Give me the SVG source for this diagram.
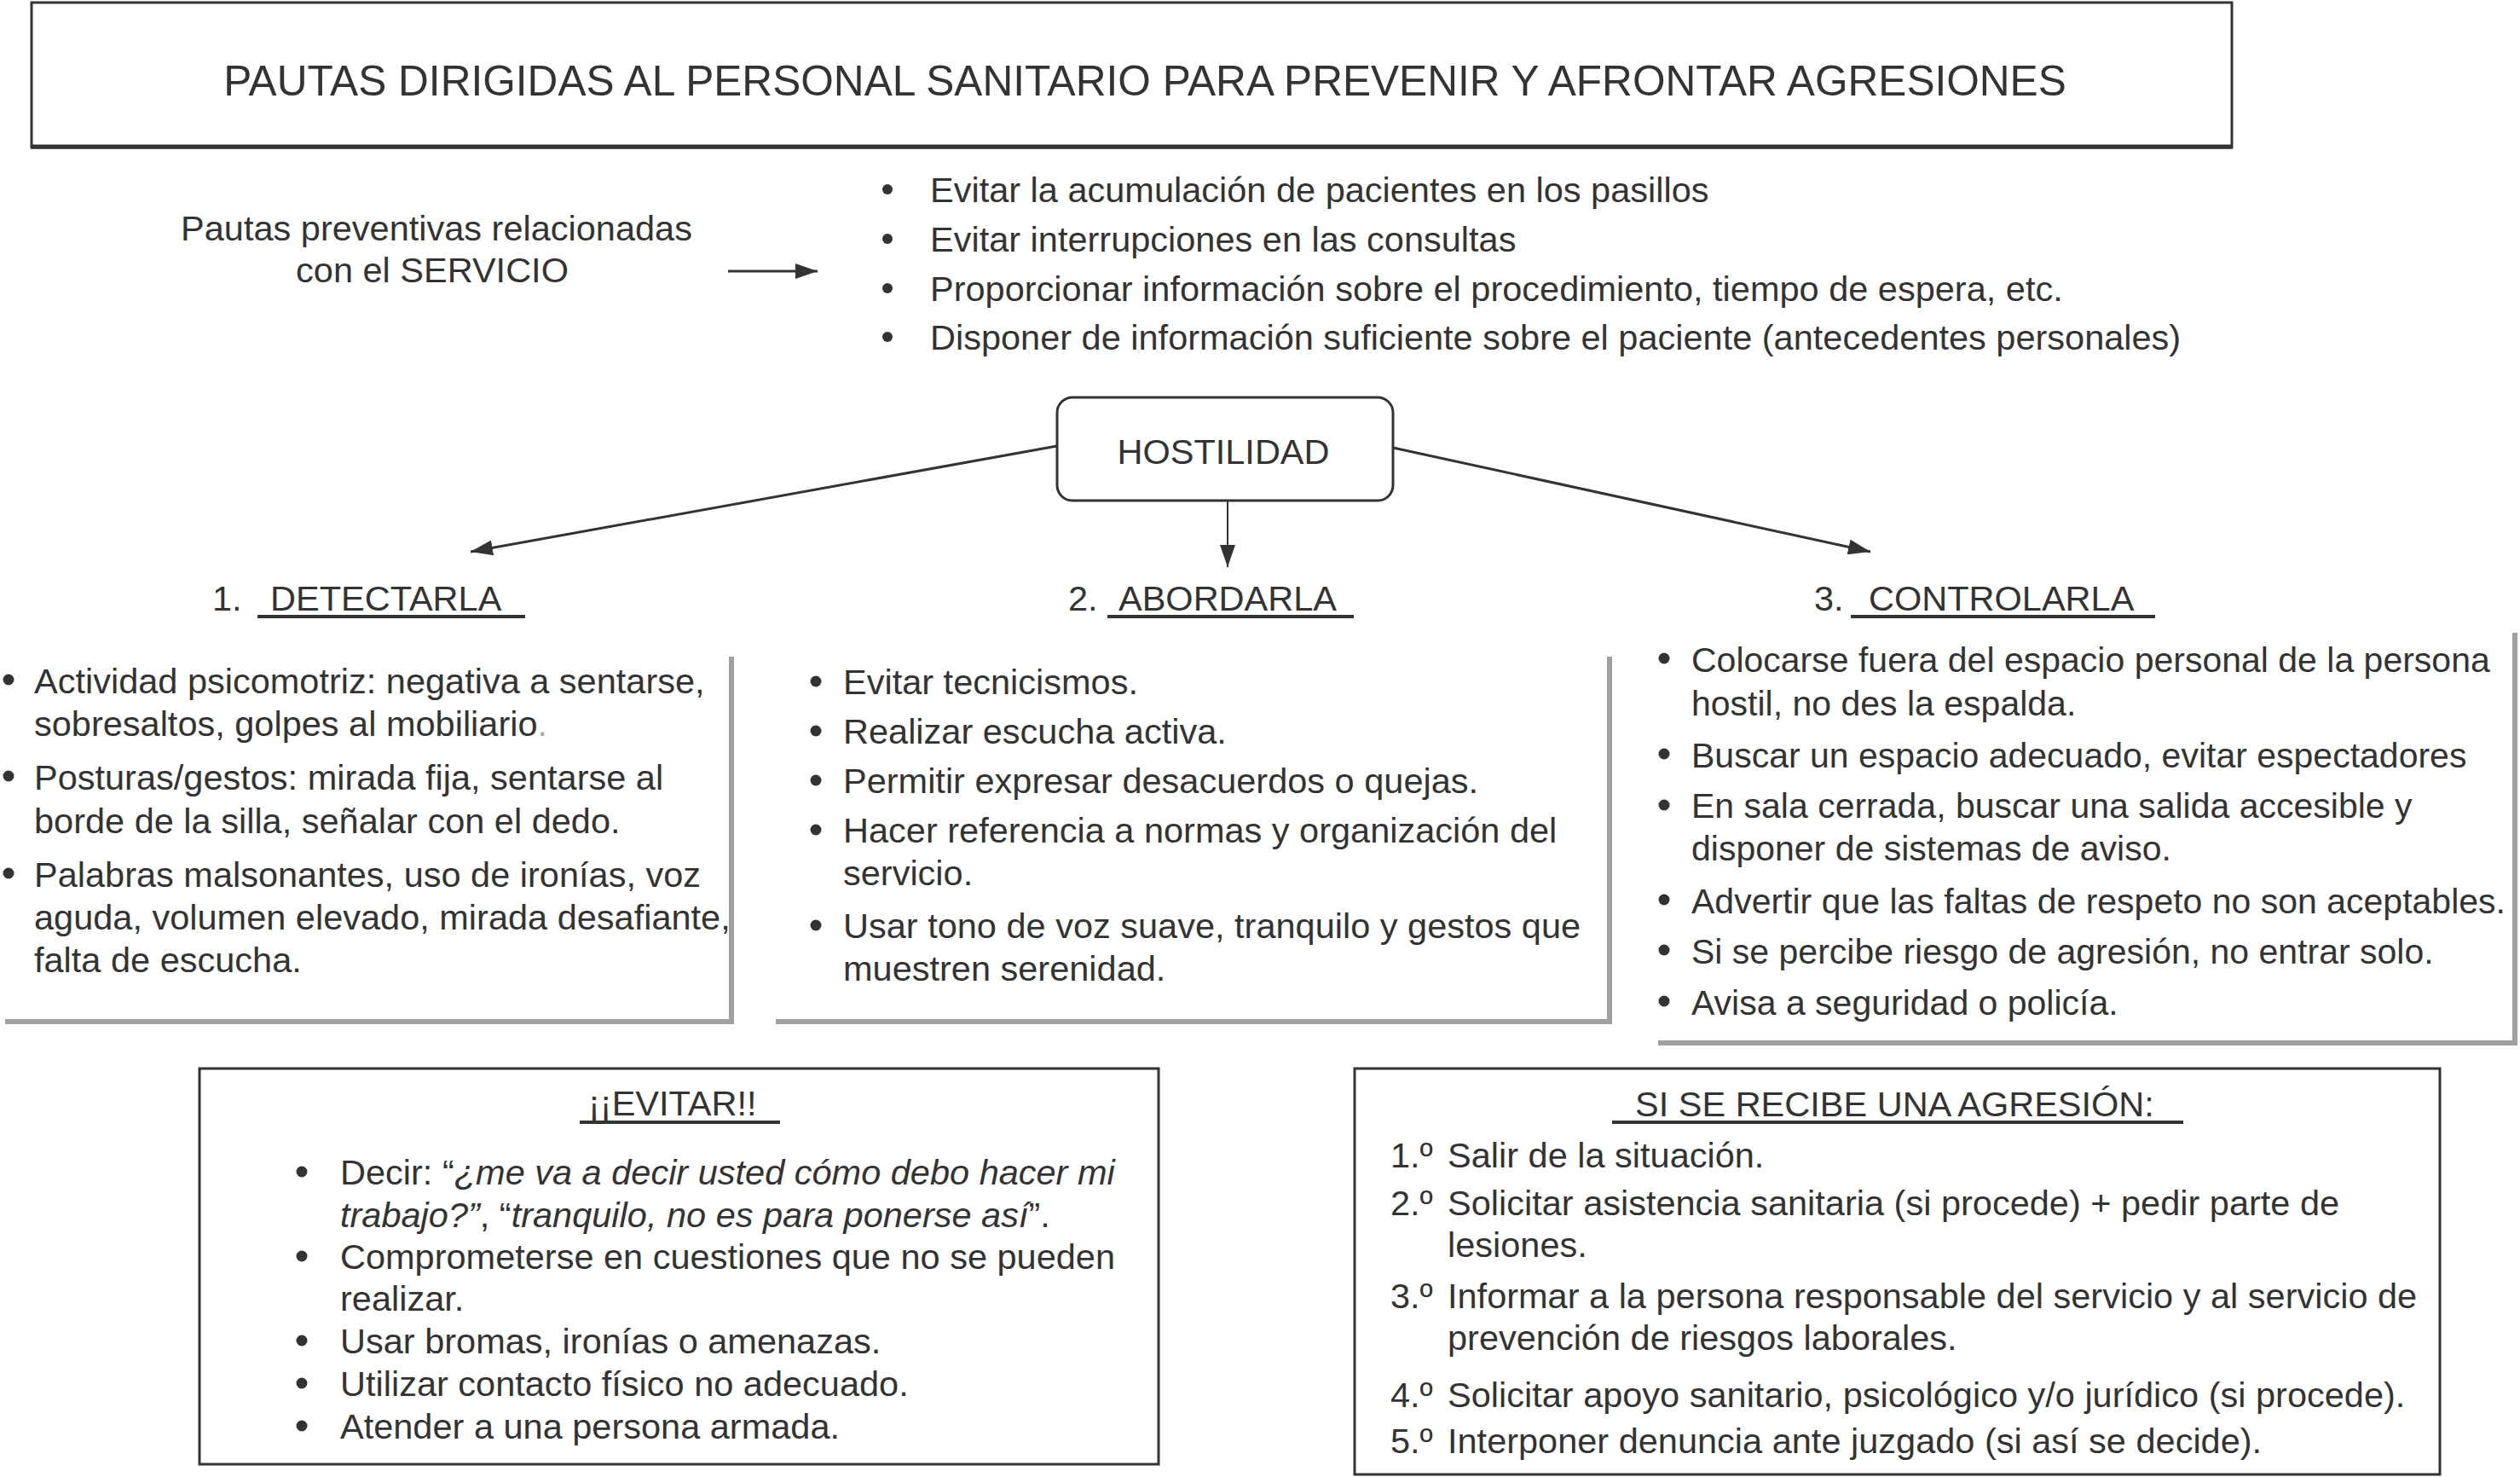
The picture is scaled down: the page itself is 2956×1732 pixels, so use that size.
<svg xmlns="http://www.w3.org/2000/svg" width="2956" height="1732" viewBox="0 0 2956 1732">
<defs>
<style>
text{font-family:"Liberation Sans",Arial,sans-serif;fill:#333;font-size:41.5px}
.title{font-size:49.6px}
.c3{font-size:41px}
.box{fill:#fff;stroke:#333;stroke-width:3}
.shadow{fill:none;stroke:#a0a0a0;stroke-width:6}
.ul{stroke:#333;stroke-width:4}
.conn{stroke:#333;fill:none}
.dot{fill:#333}
.it{font-style:italic}
</style>
<marker id="ah" markerUnits="userSpaceOnUse" markerWidth="26" markerHeight="18" viewBox="0 0 26 18" refX="26" refY="9" orient="auto">
<path d="M0,0 L26,9 L0,18 z" fill="#333"/>
</marker>
</defs>
<rect width="2956" height="1732" fill="#fff"/>

<g id="title">
<rect class="box" x="37" y="3" width="2581" height="170"/>
<line x1="37" y1="172" x2="2618" y2="172" stroke="#333" stroke-width="5"/>
<text class="title" x="1343" y="112" text-anchor="middle">PAUTAS DIRIGIDAS AL PERSONAL SANITARIO PARA PREVENIR Y AFRONTAR AGRESIONES</text>
</g>

<g id="servicio">
<text x="512" y="282" text-anchor="middle">Pautas preventivas relacionadas</text>
<text x="507" y="331" text-anchor="middle">con el SERVICIO</text>
</g>

<g id="servicio-list">
<circle class="dot" cx="1041" cy="222" r="6"/>
<circle class="dot" cx="1041" cy="280" r="6"/>
<circle class="dot" cx="1041" cy="338" r="6"/>
<circle class="dot" cx="1041" cy="395" r="6"/>
<text x="1091" y="237">Evitar la acumulación de pacientes en los pasillos</text>
<text x="1091" y="295">Evitar interrupciones en las consultas</text>
<text x="1091" y="353">Proporcionar información sobre el procedimiento, tiempo de espera, etc.</text>
<text x="1091" y="410">Disponer de información suficiente sobre el paciente (antecedentes personales)</text>
</g>

<g id="hostilidad">
<rect class="box" x="1240" y="466" width="394" height="121" rx="18" ry="18"/>
<text x="1435" y="544" text-anchor="middle">HOSTILIDAD</text>
</g>

<g id="connectors">
<line class="conn" x1="854" y1="318" x2="959" y2="318" stroke-width="3" marker-end="url(#ah)"/>
<line class="conn" x1="1240" y1="523" x2="552" y2="647" stroke-width="3" marker-end="url(#ah)"/>
<line class="conn" x1="1440" y1="587" x2="1440" y2="665" stroke-width="2" marker-end="url(#ah)"/>
<line class="conn" x1="1634" y1="525" x2="2194" y2="647" stroke-width="3" marker-end="url(#ah)"/>
</g>

<g id="detectarla">
<text x="249" y="716">1.</text>
<text x="317" y="716">DETECTARLA</text>
<line class="ul" x1="302" y1="723" x2="616" y2="723"/>
<polyline class="shadow" points="858,770 858,1198 6,1198"/>
<circle class="dot" cx="10" cy="797" r="6.5"/>
<circle class="dot" cx="10" cy="910" r="6.5"/>
<circle class="dot" cx="10" cy="1024" r="6.5"/>
<text x="40" y="813">Actividad psicomotriz: negativa a sentarse,</text>
<text x="40" y="863">sobresaltos, golpes al mobiliario<tspan fill="#aaa">.</tspan></text>
<text x="40" y="926">Posturas/gestos: mirada fija, sentarse al</text>
<text x="40" y="977">borde de la silla, señalar con el dedo.</text>
<text x="40" y="1040">Palabras malsonantes, uso de ironías, voz</text>
<text x="40" y="1090">aguda, volumen elevado, mirada desafiante,</text>
<text x="40" y="1140">falta de escucha.</text>
</g>

<g id="abordarla">
<text x="1253" y="716">2.</text>
<text x="1312" y="716">ABORDARLA</text>
<line class="ul" x1="1299" y1="723" x2="1588" y2="723"/>
<polyline class="shadow" points="1888,770 1888,1198 910,1198"/>
<circle class="dot" cx="957" cy="799" r="6.5"/>
<circle class="dot" cx="957" cy="857" r="6.5"/>
<circle class="dot" cx="957" cy="915" r="6.5"/>
<circle class="dot" cx="957" cy="973" r="6.5"/>
<circle class="dot" cx="957" cy="1085" r="6.5"/>
<text x="989" y="814">Evitar tecnicismos.</text>
<text x="989" y="872">Realizar escucha activa.</text>
<text x="989" y="930">Permitir expresar desacuerdos o quejas.</text>
<text x="989" y="988">Hacer referencia a normas y organización del</text>
<text x="989" y="1038">servicio.</text>
<text x="989" y="1100">Usar tono de voz suave, tranquilo y gestos que</text>
<text x="989" y="1150">muestren serenidad.</text>
</g>

<g id="controlarla">
<text x="2128" y="716">3.</text>
<text x="2192" y="716">CONTROLARLA</text>
<line class="ul" x1="2171" y1="723" x2="2528" y2="723"/>
<polyline class="shadow" points="2950,742 2950,1223 1945,1223"/>
<circle class="dot" cx="1952" cy="772" r="6.5"/>
<circle class="dot" cx="1952" cy="884" r="6.5"/>
<circle class="dot" cx="1952" cy="944" r="6.5"/>
<circle class="dot" cx="1952" cy="1055" r="6.5"/>
<circle class="dot" cx="1952" cy="1114" r="6.5"/>
<circle class="dot" cx="1952" cy="1174" r="6.5"/>
<text class="c3" x="1984" y="788">Colocarse fuera del espacio personal de la persona</text>
<text class="c3" x="1984" y="839">hostil, no des la espalda.</text>
<text class="c3" x="1984" y="900">Buscar un espacio adecuado, evitar espectadores</text>
<text class="c3" x="1984" y="959">En sala cerrada, buscar una salida accesible y</text>
<text class="c3" x="1984" y="1009">disponer de sistemas de aviso.</text>
<text class="c3" x="1984" y="1071">Advertir que las faltas de respeto no son aceptables.</text>
<text class="c3" x="1984" y="1130">Si se percibe riesgo de agresión, no entrar solo.</text>
<text class="c3" x="1984" y="1190">Avisa a seguridad o policía.</text>
</g>

<g id="evitar">
<rect class="box" x="234" y="1253" width="1125" height="464"/>
<text x="690" y="1308">¡¡EVITAR!!</text>
<line class="ul" x1="680" y1="1316" x2="915" y2="1316"/>
<circle class="dot" cx="354" cy="1374" r="6.5"/>
<circle class="dot" cx="354" cy="1473" r="6.5"/>
<circle class="dot" cx="354" cy="1572" r="6.5"/>
<circle class="dot" cx="354" cy="1622" r="6.5"/>
<circle class="dot" cx="354" cy="1672" r="6.5"/>
<text x="399" y="1389">Decir: “<tspan class="it">¿me va a decir usted cómo debo hacer mi</tspan></text>
<text x="399" y="1439"><tspan class="it">trabajo?”</tspan>, “<tspan class="it">tranquilo, no es para ponerse así</tspan>”.</text>
<text x="399" y="1488">Comprometerse en cuestiones que no se pueden</text>
<text x="399" y="1537">realizar.</text>
<text x="399" y="1587">Usar bromas, ironías o amenazas.</text>
<text x="399" y="1637">Utilizar contacto físico no adecuado.</text>
<text x="399" y="1687">Atender a una persona armada.</text>
</g>

<g id="agresion">
<rect class="box" x="1589" y="1253" width="1273" height="476"/>
<text x="1918" y="1309">SI SE RECIBE UNA AGRESIÓN:</text>
<line class="ul" x1="1891" y1="1316" x2="2561" y2="1316"/>
<text x="1631" y="1369">1.º</text>
<text x="1698" y="1369">Salir de la situación.</text>
<text x="1631" y="1425">2.º</text>
<text x="1698" y="1425">Solicitar asistencia sanitaria (si procede) + pedir parte de</text>
<text x="1698" y="1474">lesiones.</text>
<text x="1631" y="1534">3.º</text>
<text x="1698" y="1534">Informar a la persona responsable del servicio y al servicio de</text>
<text x="1698" y="1583">prevención de riesgos laborales.</text>
<text x="1631" y="1650">4.º</text>
<text x="1698" y="1650">Solicitar apoyo sanitario, psicológico y/o jurídico (si procede).</text>
<text x="1631" y="1704">5.º</text>
<text x="1698" y="1704">Interponer denuncia ante juzgado (si así se decide).</text>
</g>
</svg>
